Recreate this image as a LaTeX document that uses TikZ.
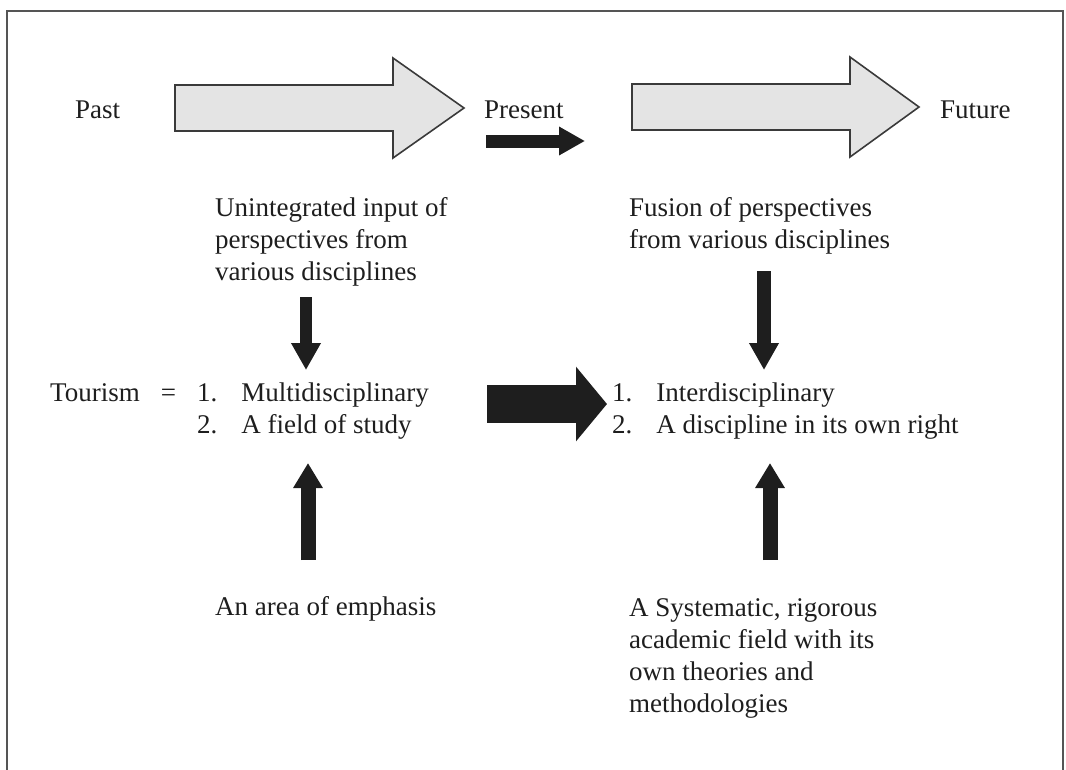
\documentclass[tikz,border=0pt]{standalone}
\usepackage{fontspec}
\setmainfont{Liberation Serif}
\usetikzlibrary{arrows.meta}
\definecolor{ink}{HTML}{1E1E1E}
\definecolor{framegray}{HTML}{555555}
\definecolor{arrowfill}{HTML}{E4E4E4}
\definecolor{arrowline}{HTML}{3A3A3A}
% a left-aligned block of lines whose baseline is that of its first line
\newcommand\txtlines[1]{\begin{tabular}[t]{@{}l@{}}#1\end{tabular}}
% a numbered two-item list
\newcommand\numlist[2]{\begin{tabular}[t]{@{}l@{\hspace{24pt}}l@{}}1. & #1\\ 2. & #2\end{tabular}}
\begin{document}
\begin{tikzpicture}[x=1pt,y=-1pt,
  lbl/.style={inner sep=0pt, anchor=base west, text=ink,
    font=\fontsize{27}{32}\selectfont},
  bigarrow/.style={fill=arrowfill, draw=arrowline, line width=1.6pt, line join=miter},
  darkarrow/.style n args={3}{draw=ink, line width=#1, line cap=butt,
    -{Triangle[length=#2,width=#3]}}]
\useasboundingbox (0,0) rectangle (1066,769);

% outer frame (open at the bottom edge)
\draw[framegray, line width=2pt] (7,780) -- (7,11) -- (1063,11) -- (1063,780);

% time line
\node[lbl] (past)    at (75,118)  {Past};
\node[lbl] (present) at (484,118) {Present};
\node[lbl] (future)  at (940,118) {Future};

\draw[bigarrow] (175,85) -- (393,85) -- (393,58) -- (464,108) -- (393,158)
  -- (393,131) -- (175,131) -- cycle;
\draw[bigarrow] (632,84) -- (850,84) -- (850,57) -- (919,107) -- (850,157)
  -- (850,130) -- (632,130) -- cycle;

\coordinate (pa) at (486,141);
\coordinate (pb) at (585,141);
\draw[darkarrow={13pt}{26pt}{27pt}] (pa) -- (pb);

% upper descriptions
\node[lbl] (unint) at (215,216)
  {\txtlines{Unintegrated input of\\ perspectives from\\ various disciplines}};
\node[lbl] (fusion) at (629,216)
  {\txtlines{Fusion of perspectives\\ from various disciplines}};

% definitions of tourism
\node[lbl] (tourism) at (50,401) {Tourism\hspace{21pt}=};
\node[lbl] (multi) at (197,401) {\numlist{Multidisciplinary}{A field of study}};
\node[lbl] (inter) at (612,401) {\numlist{Interdisciplinary}{A discipline in its own right}};

% lower descriptions
\node[lbl] (emph) at (215,615) {An area of emphasis};
\node[lbl] (system) at (629,616)
  {\txtlines{A Systematic, rigorous\\ academic field with its\\ own theories and\\ methodologies}};

% connectors
\coordinate (d1a) at (306,297);
\coordinate (d1b) at (306,370);
\draw[darkarrow={12pt}{27pt}{28pt}] (d1a) -- (d1b);

\coordinate (d2a) at (764,271);
\coordinate (d2b) at (764,370);
\draw[darkarrow={14pt}{27pt}{28pt}] (d2a) -- (d2b);

\coordinate (u1a) at (308,560);
\coordinate (u1b) at (308,463);
\draw[darkarrow={15pt}{25pt}{28pt}] (u1a) -- (u1b);

\coordinate (u2a) at (770,560);
\coordinate (u2b) at (770,463);
\draw[darkarrow={15pt}{25pt}{28pt}] (u2a) -- (u2b);

\coordinate (ma) at (487,404);
\coordinate (mb) at (607,404);
\draw[darkarrow={38pt}{31pt}{73pt}] (ma) -- (mb);
\end{tikzpicture}
\end{document}
